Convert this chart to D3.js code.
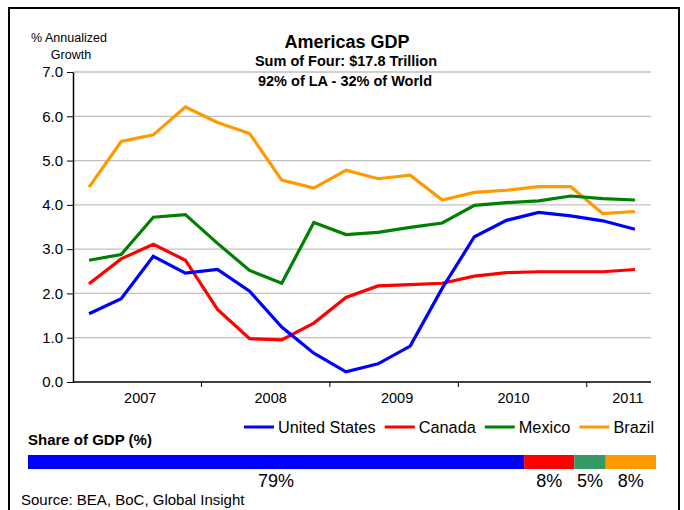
<!DOCTYPE html>
<html>
<head>
<meta charset="utf-8">
<script src="https://cdn.jsdelivr.net/npm/d3@7"></script>
<style>
  body { margin: 0; background: #fff; }
  text { font-family: "Liberation Sans", Arial, sans-serif; fill: #000; }
</style>
</head>
<body>
<div class="viz"></div>
<script>
const width = 684;
const height = 510;

// quarterly data, 2007Q1 - 2011Q2
const quarters = ["2007Q1", "2007Q2", "2007Q3", "2007Q4",
    "2008Q1", "2008Q2", "2008Q3", "2008Q4",
    "2009Q1", "2009Q2", "2009Q3", "2009Q4",
    "2010Q1", "2010Q2", "2010Q3", "2010Q4",
    "2011Q1", "2011Q2"];
const years = ["2007", "2008", "2009", "2010", "2011"];
const yTicks = [0, 1, 2, 3, 4, 5, 6, 7];

const countries = ["United States", "Canada", "Mexico", "Brazil"];
const usGrowth = [1.54, 1.88, 2.84, 2.46, 2.54, 2.05, 1.24, 0.65, 0.23, 0.41, 0.81, 2.12, 3.28, 3.65, 3.83, 3.75, 3.64, 3.45];
const canadaGrowth = [2.22, 2.78, 3.11, 2.75, 1.64, 0.98, 0.95, 1.33, 1.91, 2.17, 2.2, 2.23, 2.39, 2.47, 2.49, 2.49, 2.49, 2.54];
const mexicoGrowth = [2.75, 2.88, 3.72, 3.78, 3.13, 2.52, 2.23, 3.6, 3.33, 3.38, 3.49, 3.59, 3.99, 4.05, 4.09, 4.2, 4.14, 4.11];
const brazilGrowth = [4.4, 5.43, 5.58, 6.21, 5.86, 5.61, 4.56, 4.38, 4.78, 4.59, 4.67, 4.11, 4.28, 4.33, 4.41, 4.41, 3.8, 3.85];

// share of combined GDP (%)
const shares = [79, 8, 5, 8];

const colors = ["#0000ff", "#ff0000", "#008000", "#ff9900"];
const shareColors = ["#0000ff", "#ff0000", "#339966", "#ff9900"];

const svg = d3.select(".viz")
    .append("svg")
    .attr("width", width)
    .attr("height", height);

// outer frame
svg.append("rect")
    .attr("x", 9).attr("y", 8)
    .attr("width", 670).attr("height", 520)
    .attr("fill", "none")
    .attr("stroke", "#000")
    .attr("stroke-width", 2);

// scales
const x = d3.scaleBand().domain(quarters).range([73, 651]);
const y = d3.scaleLinear().domain([0, 7]).range([382, 72]);
const cx = q => x(q) + x.bandwidth() / 2;

// gridlines
svg.selectAll(".grid")
    .data(yTicks.slice(1))
    .enter()
    .append("line")
    .attr("x1", 73).attr("x2", 651)
    .attr("y1", d => y(d)).attr("y2", d => y(d))
    .attr("stroke", "#c0c0c0")
    .attr("stroke-width", 1.3);

// y axis
const yAxis = svg.append("g")
    .attr("transform", "translate(73,0)")
    .call(d3.axisLeft(y).tickValues(yTicks).tickFormat(d3.format(".1f")).tickSize(6).tickSizeOuter(0));
yAxis.select(".domain").attr("stroke", "#000").attr("stroke-width", 1.5);
yAxis.selectAll(".tick line").attr("stroke", "#000");
yAxis.selectAll(".tick text")
    .attr("x", -10)
    .style("font-size", "15px")
    .style("font-family", "Liberation Sans, Arial, sans-serif")
    .attr("fill", "#000");

// x axis (ticks at year boundaries)
svg.append("line")
    .attr("x1", 73).attr("x2", 651)
    .attr("y1", y(0)).attr("y2", y(0))
    .attr("stroke", "#000").attr("stroke-width", 1.5);

const yearStarts = years.slice(1).map((yr, i) => quarters[(i + 1) * 4]);
svg.selectAll(".xtick")
    .data(yearStarts)
    .enter()
    .append("line")
    .attr("x1", d => x(d)).attr("x2", d => x(d))
    .attr("y1", y(0)).attr("y2", y(0) + 5)
    .attr("stroke", "#000");

// year labels, centred in each year's band (small nudges like Excel)
const labelNudge = [3, 5, 3, -9, 9];
svg.selectAll(".year")
    .data(years)
    .enter()
    .append("text")
    .attr("x", (d, i) => {
        const qs = quarters.filter(q => q.startsWith(d));
        const x0 = x(qs[0]);
        const x1 = x(qs[qs.length - 1]) + x.bandwidth();
        return (x0 + x1) / 2 + labelNudge[i];
    })
    .attr("y", 398)
    .attr("text-anchor", "middle")
    .attr("dy", "0.35em")
    .style("font-size", "14.5px")
    .text(d => d);

// lines
const series = [usGrowth, canadaGrowth, mexicoGrowth, brazilGrowth];
const line = d3.line()
    .x((d, i) => cx(quarters[i]))
    .y(d => y(d));

// draw back to front so blue ends up on top
[3, 2, 1, 0].forEach(k => {
    svg.append("path")
        .datum(series[k])
        .attr("d", line)
        .attr("fill", "none")
        .attr("stroke", colors[k])
        .attr("stroke-width", 3.2)
        .attr("stroke-linejoin", "miter");
});

// titles
svg.append("text")
    .attr("x", 347).attr("y", 42).attr("dy", "0.35em")
    .attr("text-anchor", "middle")
    .style("font-size", "18px").style("font-weight", "bold")
    .text("Americas GDP");
svg.append("text")
    .attr("x", 346).attr("y", 61).attr("dy", "0.35em")
    .attr("text-anchor", "middle")
    .style("font-size", "14.5px").style("font-weight", "bold")
    .text("Sum of Four: $17.8 Trillion");
svg.append("text")
    .attr("x", 345).attr("y", 81).attr("dy", "0.35em")
    .attr("text-anchor", "middle")
    .style("font-size", "14.5px").style("font-weight", "bold")
    .text("92% of LA - 32% of World");

// y axis title
svg.append("text")
    .attr("x", 69).attr("y", 38).attr("dy", "0.35em")
    .attr("text-anchor", "middle")
    .style("font-size", "12.5px")
    .text("%  Annualized");
svg.append("text")
    .attr("x", 71).attr("y", 55).attr("dy", "0.35em")
    .attr("text-anchor", "middle")
    .style("font-size", "12.5px")
    .text("Growth");

// legend
let lx = 244;
countries.forEach((c, i) => {
    svg.append("line")
        .attr("x1", lx).attr("x2", lx + 30)
        .attr("y1", 427).attr("y2", 427)
        .attr("stroke", colors[i])
        .attr("stroke-width", 3);
    const t = svg.append("text")
        .attr("x", lx + 34).attr("y", 427).attr("dy", "0.35em")
        .style("font-size", "16.3px")
        .text(c);
    lx += 34 + t.node().getComputedTextLength() + 9;
});

// share of GDP bar
svg.append("text")
    .attr("x", 28).attr("y", 440).attr("dy", "0.35em")
    .style("font-size", "15px").style("font-weight", "bold")
    .text("Share of GDP (%)");

const xs = d3.scaleLinear().domain([0, 100]).range([28, 656]);
const cum = d3.cumsum(shares);
const starts = shares.map((s, i) => cum[i] - s);

svg.selectAll(".share")
    .data(shares)
    .enter()
    .append("rect")
    .attr("x", (d, i) => xs(starts[i]))
    .attr("y", 455)
    .attr("width", d => xs(d) - xs(0))
    .attr("height", 14)
    .attr("fill", (d, i) => shareColors[i]);

svg.selectAll(".shareLabel")
    .data(shares)
    .enter()
    .append("text")
    .attr("x", (d, i) => xs(starts[i] + d / 2))
    .attr("y", 481).attr("dy", "0.35em")
    .attr("text-anchor", "middle")
    .style("font-size", "18px")
    .text(d => d + "%");

// source
svg.append("text")
    .attr("x", 21).attr("y", 500).attr("dy", "0.35em")
    .style("font-size", "15px")
    .text("Source: BEA, BoC, Global Insight");
</script>
</body>
</html>
